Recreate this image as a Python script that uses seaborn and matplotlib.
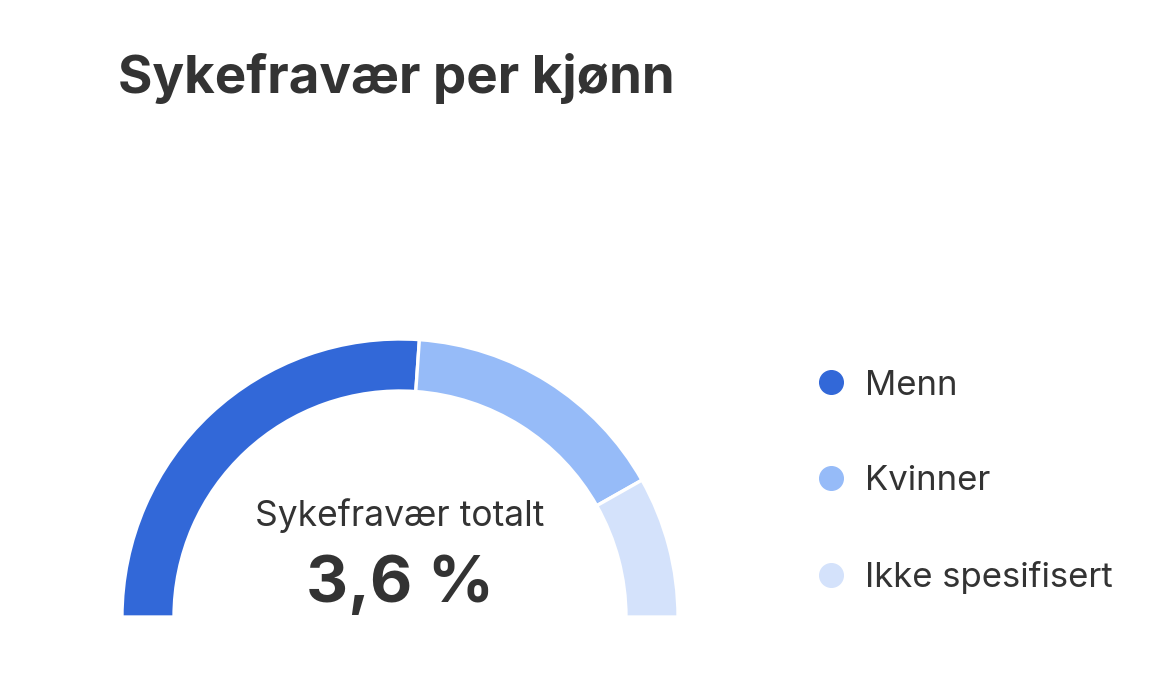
import numpy as np
import matplotlib
matplotlib.use("Agg")
import matplotlib.pyplot as plt
from matplotlib.lines import Line2D
import seaborn as sns

# Data
kategorier = ["Menn", "Kvinner", "Ikke spesifisert"]
verdier = [1.88, 1.13, 0.59]
farger = ["#3268d8", "#96bbf8", "#d4e2fb"]
total_tekst = "3,6 %"
undertittel = "Sykefravær totalt"
tittel = "Sykefravær per kjønn"

sns.set_theme(style="white")
plt.rcParams["font.family"] = ["Inter", "DejaVu Sans"]
TEKST = "#333333"

W, H = 1166, 690
fig = plt.figure(figsize=(W / 100, H / 100), dpi=100)
fig.patch.set_facecolor("white")

# gauge geometry in pixels
cx, cy, R = 400, 617, 278
x0, x1, y0, y1 = 90, 710, 320, 650
ax = fig.add_axes([x0 / W, (H - y1) / H, (x1 - x0) / W, (y1 - y0) / H])

sum_v = sum(verdier)
wedges, _ = ax.pie(
    verdier + [sum_v],
    colors=farger + ["white"],
    startangle=180,
    counterclock=False,
    radius=1.0,
    wedgeprops=dict(width=52 / R, edgecolor="white", linewidth=2.4),
)
wedges[-1].set_visible(False)  # den nedre halvdelen skjules
ax.set_xlim((x0 - cx) / R, (x1 - cx) / R)
ax.set_ylim((cy - y1) / R, (cy - y0) / R)
ax.set_aspect("auto")
ax.axis("off")

ax.text(0, (cy - 516) / R, undertittel, ha="center", va="center",
        fontsize=25.5, color=TEKST, fontweight="normal")
ax.text(0, (cy - 585) / R, total_tekst, ha="center", va="center",
        fontsize=47, color=TEKST, fontweight="bold")

fig.text(118 / W, 1 - 78 / H, tittel, ha="left", va="center",
         fontsize=38, fontweight="bold", color=TEKST)

handles = [Line2D([0], [0], marker="o", linestyle="none", markersize=17,
                  markerfacecolor=c, markeredgecolor=c) for c in farger]
fig.legend(handles, kategorier, loc="center left",
           bbox_to_anchor=(799 / W, 1 - 482 / H), frameon=False,
           fontsize=25, labelspacing=1.84, handletextpad=0.45,
           handlelength=1.06, labelcolor=TEKST, borderaxespad=0)

fig.savefig("out.png", dpi=100, facecolor="white")
